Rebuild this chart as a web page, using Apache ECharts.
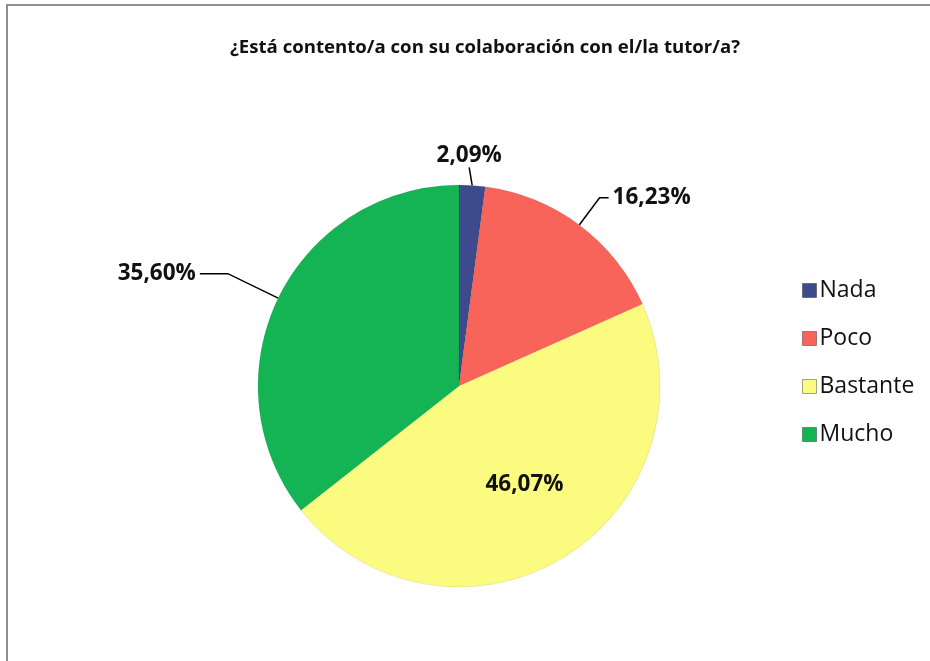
<!DOCTYPE html>
<html><head><meta charset="utf-8">
<script src="https://cdn.jsdelivr.net/npm/echarts@6/dist/echarts.min.js"></script>
<style>
html,body{margin:0;padding:0;background:#fff;overflow:hidden;}
#frame{position:absolute;left:6px;top:4px;width:1000px;height:1000px;border-top:2px solid #8e8e8e;border-left:2px solid #8e8e8e;}
#chart{position:absolute;left:0;top:0;width:930px;height:661px;}
</style></head>
<body>
<div id="frame"></div>
<div id="chart"></div>
<script>
const title = '¿Está contento/a con su colaboración con el/la tutor/a?';
const categories = ['Nada', 'Poco', 'Bastante', 'Mucho'];
const values = [2.09, 16.23, 46.07, 35.60];
const colors = ['#3d4a8c', '#f8645a', '#fbfb80', '#14b455'];

const chart = echarts.init(document.getElementById('chart'), null, {renderer: 'canvas'});
const fmt = p => p.value.toFixed(2).replace('.', ',') + '%';
const labelFont = {fontFamily: 'Open Sans', fontWeight: 'bold', fontSize: 22.5, color: '#111'};
const lineCfg = {
  0: {length: 15, length2: 0},
  1: {length: 34, length2: 9},
  2: {},
  3: {length: 56, length2: 28}
};
const data = categories.map((name, i) => {
  const item = {name, value: values[i], itemStyle: {color: colors[i], borderColor: 'rgba(0,0,0,0.15)', borderWidth: 0.5}};
  if (i === 2) {
    item.label = {position: 'inside', offset: [12, 10]};
    item.labelLine = {show: false};
  } else {
    item.labelLine = Object.assign({show: true, lineStyle: {color: '#000', width: 1.5}}, lineCfg[i]);
  }
  return item;
});
chart.setOption({
  animation: false,
  backgroundColor: 'transparent',
  title: {
    text: title, left: 480, top: 33, textAlign: 'center',
    textStyle: {fontFamily: 'Open Sans', fontWeight: 'bold', fontSize: 18.6, color: '#111'}
  },
  legend: {
    orient: 'vertical', left: 797, top: 274, itemGap: 25,
    itemWidth: 14, itemHeight: 14, icon: 'rect',
    textStyle: {fontFamily: 'Open Sans', fontSize: 23, color: '#111', padding: [0, 0, 0, -2]},
    data: categories.map((c, i) => ({name: c, itemStyle: {color: colors[i], borderColor: 'rgba(0,0,0,0.35)', borderWidth: 1}}))
  },
  series: [{
    type: 'pie',
    center: [459, 386],
    radius: 201,
    startAngle: 90,
    clockwise: true,
    avoidLabelOverlap: false,
    label: Object.assign({show: true, position: 'outside', formatter: fmt, distanceToLabelLine: 4}, labelFont),
    labelLayout: function (params) {
      if (params.dataIndex === 0 && params.labelLinePoints) {
        const end = params.labelLinePoints[params.labelLinePoints.length - 1];
        return {x: end[0] - params.labelRect.width / 2 - 4, y: end[1] - params.labelRect.height - 3, align: 'left', verticalAlign: 'top'};
      }
      return {};
    },
    data: data
  }]
});
</script>
</body></html>
